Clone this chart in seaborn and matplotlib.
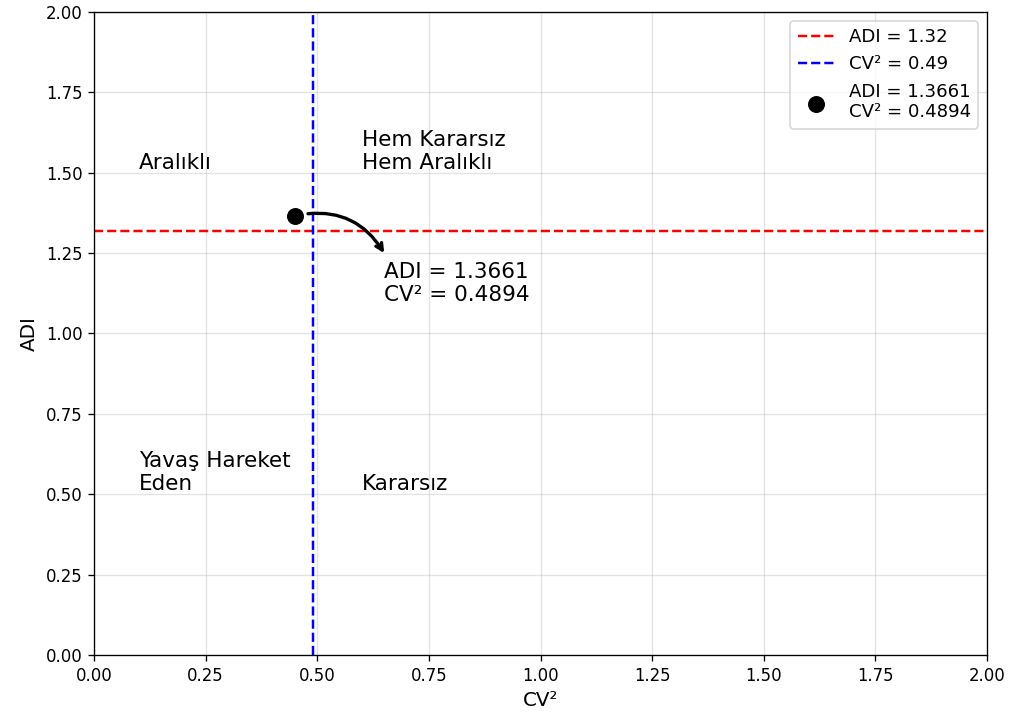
import matplotlib
matplotlib.use("Agg")
import matplotlib.pyplot as plt
import seaborn as sns
import pandas as pd

# thresholds and the single observed point
adi_limit = 1.32
cv2_limit = 0.49
point_cv2 = [0.45]
point_adi = [1.3661]
point_label = "ADI = 1.3661\nCV\u00b2 = 0.4894"

# quadrant labels
quad_text = ["Aral\u0131kl\u0131", "Hem Karars\u0131z\nHem Aral\u0131kl\u0131",
             "Yava\u015f Hareket\nEden", "Karars\u0131z"]
quad_x = [0.1, 0.6, 0.1, 0.6]
quad_y = [1.5, 1.5, 0.5, 0.5]

df = pd.DataFrame({"CV2": point_cv2, "ADI": point_adi})

fig = plt.figure(figsize=(1017 / 119, 715 / 119), dpi=119)
ax = fig.add_axes([94 / 1017, 1 - 655 / 715, 893 / 1017, 643 / 715])

ax.axhline(adi_limit, color="red", linestyle="--", lw=1.5, label=f"ADI = {adi_limit}")
ax.axvline(cv2_limit, color="blue", linestyle="--", lw=1.5, label=f"CV\u00b2 = {cv2_limit}")
sns.scatterplot(data=df, x="CV2", y="ADI", color="black", s=90, ax=ax,
                label=point_label, zorder=5, edgecolor="black")

# curved arrow from the point to the annotation text
ax.annotate("", xy=(0.65, 1.25), xytext=(point_cv2[0], point_adi[0]),
            arrowprops=dict(arrowstyle="->", connectionstyle="arc3,rad=-0.35",
                            color="black", lw=2, shrinkA=8, shrinkB=0))
ax.text(0.65, 1.1, point_label, fontsize=13)

for t, x, y in zip(quad_text, quad_x, quad_y):
    ax.text(x, y, t, fontsize=13, va="bottom")

ax.set_xlim(0, 2)
ax.set_ylim(0, 2)
ax.set_xticks([i * 0.25 for i in range(9)])
ax.set_yticks([i * 0.25 for i in range(9)])
ax.set_xlabel("CV\u00b2", fontsize=12)
ax.set_ylabel("ADI", fontsize=12)
ax.grid(True, alpha=0.35)
ax.legend(loc="upper right", fontsize=11)

fig.savefig("out.png", dpi=119)
